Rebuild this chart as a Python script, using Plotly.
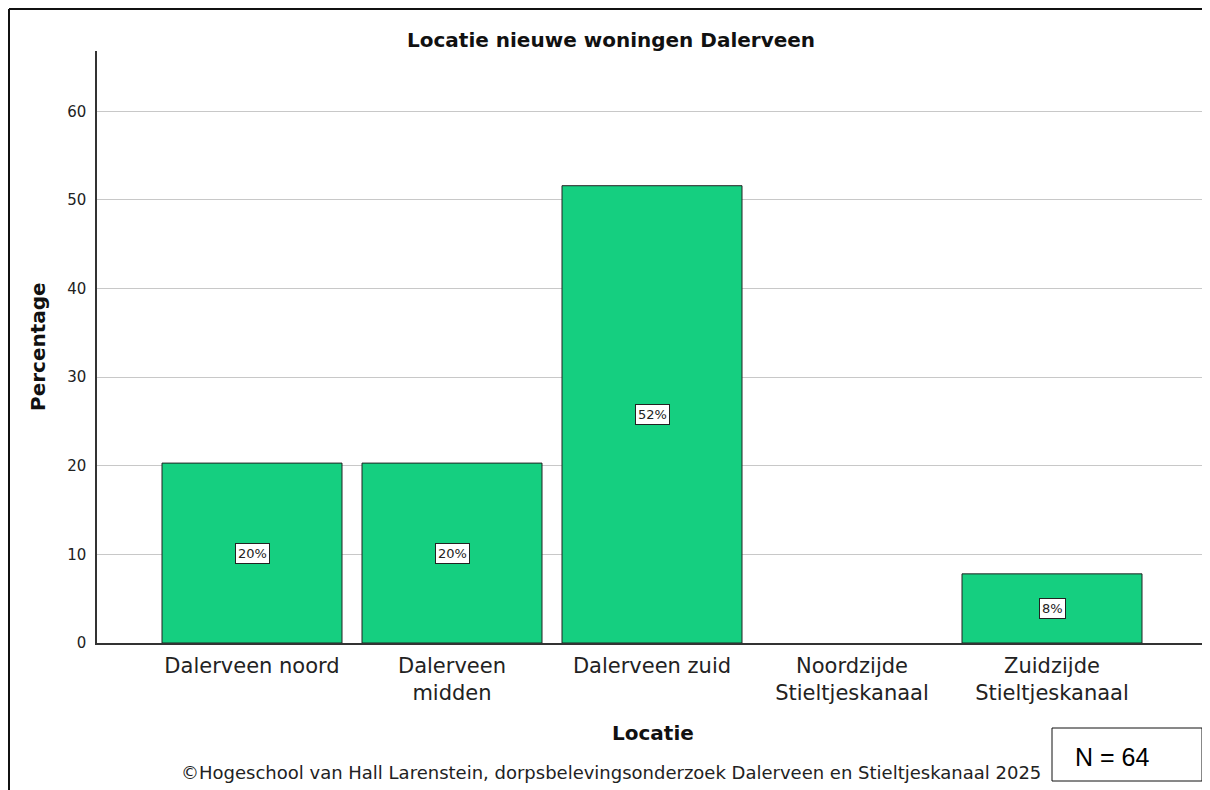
import plotly.graph_objects as go

categories = ["Dalerveen noord", "Dalerveen<br>midden", "Dalerveen zuid",
              "Noordzijde<br>Stieltjeskanaal", "Zuidzijde<br>Stieltjeskanaal"]
percentages = [20.3, 20.3, 51.6, 0.0, 7.8]
y_ticks = [0, 10, 20, 30, 40, 50, 60]

OFF = 8  # page body margin
W, H = 1210 - OFF, 790 - OFF
L, R, T = 97 - OFF, 2, 51 - OFF
B = H - (643 - OFF)
PW, PH = W - L - R, H - T - B

def px(x):
    return (x - OFF - L) / PW

def py(y):
    return (H - B - (y - OFF)) / PH

FONT = "DejaVu Sans"
bar_color = "#15CF80"

fig = go.Figure()
fig.add_trace(go.Bar(
    x=list(range(len(categories))), y=percentages,
    marker=dict(color=bar_color,
                line=dict(color="#222222", width=[0 if v == 0 else 1 for v in percentages])),
    width=0.9, hoverinfo="skip",
))

annotations = []
for i, v in enumerate(percentages):
    if v > 0:
        annotations.append(dict(
            x=i, y=v / 2, xref="x", yref="y", text=f"{round(v)}%",
            showarrow=False, font=dict(family=FONT, size=13, color="#222"),
            bgcolor="white", bordercolor="#222", borderwidth=1, borderpad=2,
        ))

annotations += [
    dict(x=px(611), y=py(40), xref="paper", yref="paper", text="<b>Locatie nieuwe woningen Dalerveen</b>",
         showarrow=False, font=dict(family=FONT, size=20, color="#111"), xanchor="center", yanchor="middle"),
    dict(x=px(38), y=py(347), xref="paper", yref="paper", text="<b>Percentage</b>", textangle=-90,
         showarrow=False, font=dict(family=FONT, size=20, color="#111"), xanchor="center", yanchor="middle"),
    dict(x=px(653), y=py(733), xref="paper", yref="paper", text="<b>Locatie</b>",
         showarrow=False, font=dict(family=FONT, size=20, color="#111"), xanchor="center", yanchor="middle"),
    dict(x=px(611), y=py(772), xref="paper", yref="paper",
         text="©Hogeschool van Hall Larenstein, dorpsbelevingsonderzoek Dalerveen en Stieltjeskanaal 2025",
         showarrow=False, font=dict(family=FONT, size=18, color="#222"), xanchor="center", yanchor="middle"),
    dict(x=px(1112), y=py(757), xref="paper", yref="paper", text="N = 64",
         showarrow=False, font=dict(family="Liberation Sans", size=25, color="#000"), xanchor="center", yanchor="middle"),
]

shapes = [
    # outer frame (left and top edges)
    dict(type="line", xref="paper", yref="paper", x0=px(9), x1=px(1215), y0=py(9), y1=py(9),
         line=dict(color="#111", width=2)),
    dict(type="line", xref="paper", yref="paper", x0=px(9), x1=px(9), y0=py(9), y1=py(800),
         line=dict(color="#111", width=2)),
    # N box
    dict(type="rect", xref="paper", yref="paper", x0=px(1052), x1=px(1202), y0=py(728), y1=py(781),
         line=dict(color="#111", width=1), fillcolor="white", layer="below"),
]

fig.update_layout(
    width=W, height=H,
    margin=dict(l=L, r=R, t=T, b=B),
    paper_bgcolor="white", plot_bgcolor="white",
    showlegend=False,
    bargap=0.1,
    annotations=annotations,
    shapes=shapes,
    xaxis=dict(
        range=[-0.775, 4.78], tickmode="array", tickvals=list(range(len(categories))),
        ticktext=categories, showgrid=False, zeroline=False,
        showline=True, linecolor="#333", linewidth=1.5,
        tickfont=dict(family=FONT, size=21, color="#222"), ticks="", ticklabelstandoff=3,
    ),
    yaxis=dict(
        range=[0, 66.8], tickmode="array", tickvals=y_ticks,
        showgrid=True, gridcolor="#c8c8c8", gridwidth=1, zeroline=False,
        showline=True, linecolor="#333", linewidth=1.5,
        tickfont=dict(family=FONT, size=15, color="#222"), ticks="", ticklabelstandoff=6,
    ),
)

fig.write_html("out.html")
